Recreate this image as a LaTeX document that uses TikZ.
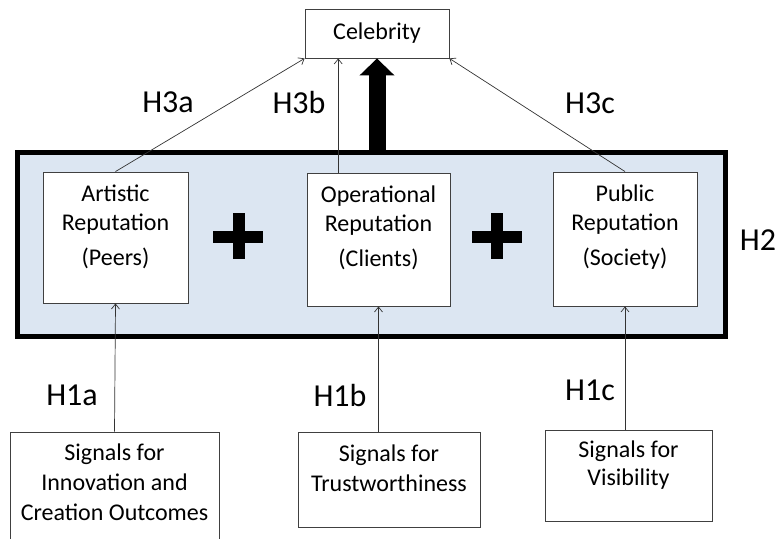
\documentclass[tikz,border=0pt]{standalone}
\usepackage{fontspec}
\setmainfont{Carlito}
\usetikzlibrary{arrows.meta, positioning, calc}
\definecolor{panelBlue}{RGB}{220,230,242}
\definecolor{edgeGray}{gray}{0.25}

\begin{document}
\begin{tikzpicture}[x=1pt, y=-1pt, >={Straight Barb[length=5pt, width=8pt]},
    box/.style={draw=edgeGray, line width=0.9pt, fill=white, inner sep=0pt},
    boxtext/.style={align=center, font=\fontsize{24}{30}\selectfont, inner sep=0pt},
    hlabel/.style={font=\fontsize{32}{38}\selectfont, inner sep=0pt},
    link/.style={->, line width=0.7pt, black!80},
    plusmark/.style={line width=12pt, black}]
    \useasboundingbox (0,0) rectangle (778,538);

    \node[draw=black, line width=5pt, fill=panelBlue, minimum width=708, minimum height=184] (big) at (371,244) {};

    \node[box, minimum width=144, minimum height=49, font=\fontsize{24}{30}\selectfont] (celeb) at (377,33.5) {Celebrity};

    \node[box, minimum width=145, minimum height=131] (art) at (115.5,237.5) {};
    \node[box, minimum width=143, minimum height=133] (ops) at (378.5,239.5) {};
    \node[box, minimum width=144, minimum height=134] (pub) at (625,239) {};
    \node[boxtext, below=13pt of art.north] (artText) {Artistic\\[-1pt]Reputation\\[5pt](Peers)};
    \node[boxtext, below=13pt of ops.north] (opsText) {Operational\\[-1pt]Reputation\\[5pt](Clients)};
    \node[boxtext, below=13pt of pub.north] (pubText) {Public\\[-1pt]Reputation\\[5pt](Society)};

    \node[box, minimum width=209, minimum height=116] (sig1) at (114.5,490) {};
    \node[box, minimum width=182, minimum height=95] (sig2) at (389,479.5) {};
    \node[box, minimum width=167, minimum height=91] (sig3) at (628.5,475.5) {};
    \node[boxtext, below=12pt of sig1.north] (sig1Text) {Signals for\\Innovation and\\Creation Outcomes};
    \node[boxtext, below=13pt of sig2.north] (sig2Text) {Signals for\\Trustworthiness};
    \node[boxtext, below=11pt of sig3.north] (sig3Text) {Signals for\\[-2pt]Visibility};

    \draw[plusmark] (213,237) -- (263,237) (239,213) -- (239,259);
    \draw[plusmark] (472,237) -- (522,237) (497,213) -- (497,259);

    \coordinate (opsTop) at ($(ops.north west)!0.22!(ops.north east)$);
    \draw[link] (art.north) -- (celeb.south west);
    \draw[link] (opsTop) -- (opsTop |- celeb.south);
    \draw[link] (pub.north) -- (celeb.south east);
    \draw[line width=17pt, -{Triangle[length=17pt, width=34pt]}] (big.north -| celeb.south) -- (celeb.south);

    \draw[link] (sig1.north) -- (art.south);
    \draw[link] (ops.south |- sig2.north) -- (ops.south);
    \draw[link] (pub.south |- sig3.north) -- (pub.south);

    \node[hlabel] (h3a) at (168,102) {H3a};
    \node[hlabel] (h3b) at (299,102) {H3b};
    \node[hlabel] (h3c) at (590,103) {H3c};
    \node[hlabel] (h2) at (758,240) {H2};
    \node[hlabel] (h1a) at (72,395) {H1a};
    \node[hlabel] (h1b) at (340,395) {H1b};
    \node[hlabel] (h1c) at (590,390) {H1c};
\end{tikzpicture}
\end{document}
